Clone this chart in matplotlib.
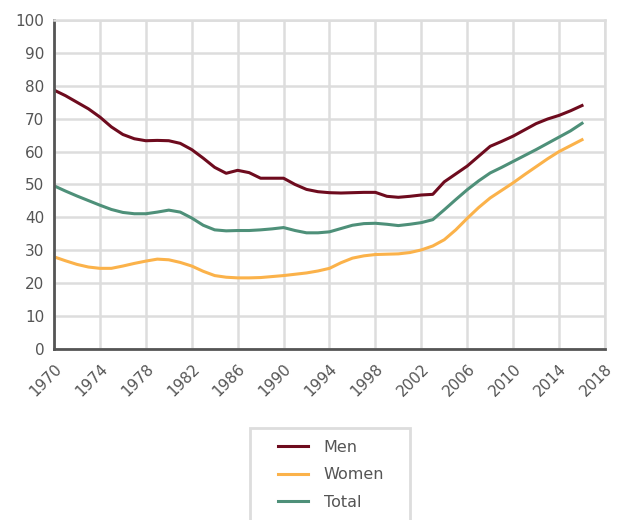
import matplotlib.pyplot as plt
import numpy as np
from matplotlib.patches import Rectangle

# yearly values
years = np.arange(1970, 2017)
men = [78.7, 77.0, 75.0, 73.0, 70.5, 67.5, 65.2, 63.9, 63.3, 63.4, 63.3, 62.5, 60.6,
       58.0, 55.2, 53.4, 54.3, 53.6, 51.9, 51.9, 51.9, 50.0, 48.5, 47.8, 47.5, 47.4,
       47.5, 47.6, 47.6, 46.4, 46.1, 46.4, 46.8, 47.0, 50.8, 53.2, 55.6, 58.6, 61.6,
       63.1, 64.7, 66.6, 68.5, 69.9, 71.0, 72.4, 74.0]
women = [28.0, 26.8, 25.7, 24.9, 24.5, 24.5, 25.2, 26.0, 26.7, 27.3, 27.1, 26.3, 25.2,
         23.6, 22.3, 21.8, 21.6, 21.6, 21.7, 22.0, 22.3, 22.7, 23.1, 23.7, 24.5, 26.2,
         27.6, 28.3, 28.7, 28.8, 28.9, 29.3, 30.1, 31.3, 33.2, 36.2, 39.7, 43.0, 45.9,
         48.2, 50.5, 53.0, 55.4, 57.8, 60.0, 61.8, 63.6]
total = [49.6, 48.0, 46.5, 45.1, 43.7, 42.4, 41.5, 41.1, 41.1, 41.6, 42.2, 41.6, 39.8,
         37.6, 36.2, 35.9, 36.0, 36.0, 36.2, 36.5, 36.9, 36.0, 35.3, 35.3, 35.6, 36.6,
         37.6, 38.1, 38.2, 37.9, 37.5, 37.9, 38.4, 39.3, 42.3, 45.4, 48.4, 51.1, 53.5,
         55.2, 57.0, 58.8, 60.6, 62.5, 64.4, 66.3, 68.6]

xticks = np.arange(1970, 2019, 4)
yticks = np.arange(0, 101, 10)

txt = '#555555'
W, H = 617, 520
fig = plt.figure(figsize=(6.17, 5.2), dpi=100)
ax = fig.add_axes([0.0875, 0.329, 0.893, 0.6325])

ax.plot(years, men, color='#6e0b1e', lw=2.2, label='Men')
ax.plot(years, women, color='#fbb24a', lw=2.2, label='Women')
ax.plot(years, total, color='#4e9079', lw=2.2, label='Total')

ax.set_xlim(1970, 2018)
ax.set_ylim(0, 100)
ax.set_xticks(xticks)
ax.set_yticks(yticks)
ax.set_xticklabels([str(t) for t in xticks], rotation=45, ha='right', rotation_mode='anchor')
ax.tick_params(colors=txt, labelsize=11, length=0)
ax.tick_params(axis='x', pad=9)
ax.tick_params(axis='y', pad=7)
ax.grid(True, color='#dddddd', lw=1.8)
ax.set_axisbelow(True)
for s in ['top', 'right']:
    ax.spines[s].set_color('#dddddd')
    ax.spines[s].set_linewidth(1.8)
for s in ['left', 'bottom']:
    ax.spines[s].set_color('#555555')
    ax.spines[s].set_linewidth(2)

# legend box (runs off the bottom edge)
fig.patches.append(Rectangle((250 / W, -10 / H), 160 / W, (520 - 428 + 10) / H,
                             transform=fig.transFigure, fill=False,
                             edgecolor='#dddddd', lw=2))
leg = fig.legend(loc='upper left', bbox_to_anchor=(278 / W, 1 - 440 / H), fontsize=11.5,
                 frameon=False, handlelength=1.9, handletextpad=0.95,
                 labelspacing=0.78, borderpad=0, borderaxespad=0)
for t in leg.get_texts():
    t.set_color(txt)

fig.savefig('out.png', dpi=100)
